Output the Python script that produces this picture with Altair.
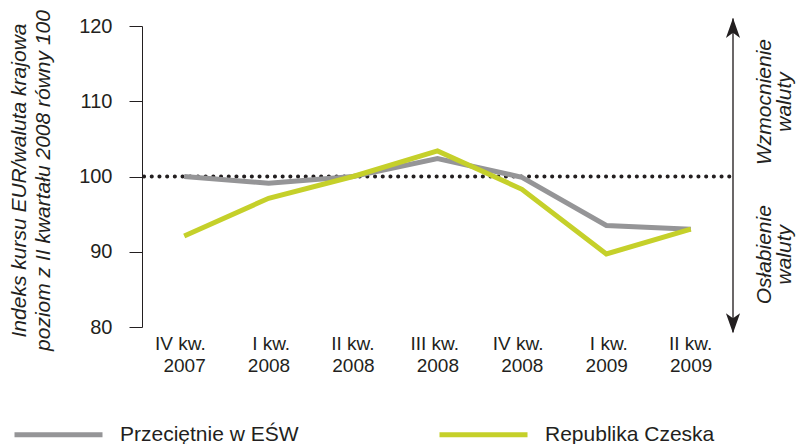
import altair as alt
import pandas as pd

categories = ["IV kw.|2007", "I kw.|2008", "II kw.|2008", "III kw.|2008",
              "IV kw.|2008", "I kw.|2009", "II kw.|2009"]
series_names = ["Przeciętnie w EŚW", "Republika Czeska"]
avg_values = [100.0, 99.1, 100.0, 102.4, 99.9, 93.5, 93.0]
cz_values = [92.1, 97.1, 100.0, 103.4, 98.3, 89.7, 93.0]
colors = ["#959597", "#c5d02a"]
y_ticks = [80, 90, 100, 110, 120]
ann_text = [["Wzmocnienie", "waluty"], ["Osłabienie", "waluty"]]
ann_y = [109.9, 89.6]
arrow_ends = [121.0, 79.3]
head_pos = [119.55, 80.7]

FONT = "Liberation Sans"
DARK = "#231f20"
W, H = 591, 301

rows = []
for c, a, z in zip(categories, avg_values, cz_values):
    rows.append({"q": c, "v": a, "s": series_names[0]})
    rows.append({"q": c, "v": z, "s": series_names[1]})
df = pd.DataFrame(rows)

yscale = alt.Scale(domain=[80, 120], nice=False, zero=False)

lines = alt.Chart(df).mark_line(strokeWidth=5).encode(
    x=alt.X("q:N", sort=categories, scale=alt.Scale(type="point", padding=0.5),
            axis=alt.Axis(title=None, ticks=False, domain=False, labelAngle=0,
                          labelExpr="split(datum.label, '|')",
                          labelFont=FONT, labelFontSize=19, labelColor=DARK,
                          labelAlign="right", labelOffset=21, labelPadding=7,
                          labelLineHeight=22, labelBaseline="top")),
    y=alt.Y("v:Q", scale=yscale,
            axis=alt.Axis(values=y_ticks, grid=False, tickSize=13, tickColor=DARK,
                          domainColor=DARK, labelFont=FONT, labelFontSize=20,
                          labelColor=DARK, labelPadding=17,
                          title=["Indeks kursu EUR/waluta krajowa",
                                 "poziom z II kwartału 2008 równy 100"],
                          titleFont=FONT, titleFontSize=21, titleFontStyle="italic",
                          titleFontWeight="normal", titleColor=DARK,
                          titleLineHeight=24, titleX=-134, titleY=154,
                          titleAngle=-90, titleAlign="center", titleBaseline="top")),
    color=alt.Color("s:N", scale=alt.Scale(domain=series_names, range=colors),
                    legend=alt.Legend(title=None, orient="none", direction="horizontal",
                                      legendX=-130, legendY=362,
                                      symbolType="stroke", symbolSize=7744,
                                      symbolStrokeWidth=5, labelFont=FONT,
                                      labelFontSize=21, labelColor=DARK,
                                      labelOffset=15, labelLimit=400,
                                      columnPadding=130)),
)

ref = alt.Chart(pd.DataFrame({"v": [100]})).mark_rule(
    strokeDash=[0.1, 7.6], strokeCap="round", strokeWidth=4, color=DARK
).encode(x=alt.value(2), x2=alt.value(W), y=alt.Y("v:Q", scale=yscale))

arrow = alt.Chart(pd.DataFrame({"a": [arrow_ends[0]], "b": [arrow_ends[1]]})).mark_rule(
    color="#3a3536", strokeWidth=1.5
).encode(x=alt.value(W), y=alt.Y("a:Q", scale=yscale), y2="b:Q")

heads = alt.Chart(pd.DataFrame({"v": head_pos, "ang": [0, 180]})).mark_point(
    shape="M0,-1L0.62,0.75L0,0.3L-0.62,0.75Z", filled=True, color=DARK, opacity=1,
    size=520
).encode(x=alt.value(W), y=alt.Y("v:Q", scale=yscale),
         angle=alt.Angle("ang:Q", scale=None))

ann = alt.Chart(pd.DataFrame({"t": ann_text, "v": ann_y})).mark_text(
    angle=270, font=FONT, fontSize=21, fontStyle="italic", color=DARK,
    align="center", baseline="middle", lineHeight=20
).encode(x=alt.value(W + 32), y=alt.Y("v:Q", scale=yscale), text="t")

chart = alt.layer(ref, lines, arrow, heads, ann).properties(
    width=W, height=H,
    autosize=alt.AutoSizeParams(type="none"),
    padding={"left": 142, "top": 26, "right": 69, "bottom": 117},
).configure_view(stroke=None)

chart.save("out.html", embed_options={"renderer": "svg", "actions": False})
